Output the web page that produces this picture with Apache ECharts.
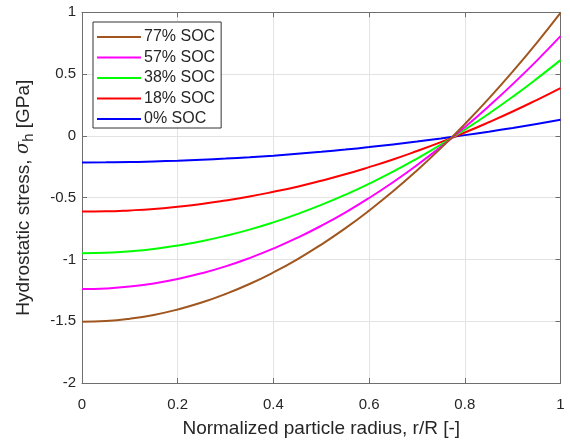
<!DOCTYPE html>
<html><head><meta charset="utf-8">
<script src="https://cdn.jsdelivr.net/npm/echarts@6/dist/echarts.min.js"></script>
<style>html,body{margin:0;padding:0;background:#fff}#c{width:570px;height:443px}</style>
</head><body><div id="c"></div>
<script>
const radius = [0,0.05,0.1,0.15,0.2,0.25,0.3,0.35,0.4,0.45,0.5,0.55,0.6,0.65,0.7,0.75,0.8,0.85,0.9,0.95,1];
const seriesNames = ['77% SOC','57% SOC','38% SOC','18% SOC','0% SOC'];
const soc77 = [-1.505,-1.499,-1.480,-1.449,-1.405,-1.349,-1.280,-1.199,-1.105,-0.999,-0.880,-0.749,-0.605,-0.449,-0.280,-0.099,0.095,0.301,0.520,0.751,0.995];
const soc57 = [-1.240,-1.235,-1.220,-1.194,-1.158,-1.112,-1.056,-0.989,-0.912,-0.825,-0.728,-0.621,-0.503,-0.375,-0.237,-0.089,0.070,0.239,0.418,0.607,0.807];
const soc38 = [-0.950,-0.946,-0.934,-0.915,-0.887,-0.852,-0.809,-0.759,-0.700,-0.633,-0.559,-0.477,-0.387,-0.290,-0.184,-0.071,0.050,0.179,0.316,0.461,0.613];
const soc18 = [-0.613,-0.611,-0.603,-0.591,-0.573,-0.551,-0.523,-0.491,-0.453,-0.411,-0.363,-0.311,-0.253,-0.191,-0.123,-0.051,0.027,0.110,0.197,0.290,0.387];
const soc0  = [-0.215,-0.214,-0.212,-0.207,-0.201,-0.193,-0.184,-0.173,-0.160,-0.145,-0.129,-0.111,-0.091,-0.069,-0.046,-0.021,0.006,0.034,0.064,0.096,0.130];
const xTicks = [0,0.2,0.4,0.6,0.8,1];
const yTicks = [-2,-1.5,-1,-0.5,0,0.5,1];

const allValues = [soc77,soc57,soc38,soc18,soc0];
const colors = ['#a0561e','#ff00ff','#00ff00','#ff0000','#0000ff'];
const axisColor = '#6e6e6e';
const textColor = '#262626';
const font = 'Liberation Sans, Arial, sans-serif';

const chart = echarts.init(document.getElementById('c'));
const baseX = {type:'value',min:0,max:1,interval:0.2,
  axisLine:{show:true,onZero:false,lineStyle:{color:axisColor,width:1}},
  axisTick:{show:true,inside:true,length:5,lineStyle:{color:axisColor}},
  splitLine:{show:false}};
const baseY = {type:'value',min:-2,max:1,interval:0.5,
  axisLine:{show:true,onZero:false,lineStyle:{color:axisColor,width:1}},
  axisTick:{show:true,inside:true,length:5,lineStyle:{color:axisColor}},
  splitLine:{show:false}};
const fmt = v => String(Math.round(v*10)/10);
chart.setOption({
  animation:false,
  backgroundColor:'#fff',
  grid:{left:82,right:9.5,top:12.3,bottom:59,containLabel:false},
  legend:{
    orient:'vertical',left:93,top:22,
    data:seriesNames,
    icon:'rect',itemWidth:44,itemHeight:2,itemGap:4.5,
    padding:[7,6,1,4],
    borderColor:'#333',borderWidth:1,backgroundColor:'#fff',
    textStyle:{fontFamily:font,fontSize:16,color:textColor,padding:[0,0,0,-2]}
  },
  xAxis:[
    Object.assign({},baseX,{position:'bottom',
      name:'Normalized particle radius, r/R [-]',nameLocation:'middle',nameGap:36,
      nameTextStyle:{fontFamily:font,fontSize:19,color:textColor},
      axisLabel:{show:true,margin:14,fontFamily:font,fontSize:15,color:textColor,formatter:fmt},
      splitLine:{show:true,lineStyle:{color:'#e3e3e3',width:1}}}),
    Object.assign({},baseX,{position:'top',axisLabel:{show:false}})
  ],
  yAxis:[
    Object.assign({},baseY,{position:'left',
      name:'Hydrostatic stress, {i|σ}{sub|h} [GPa]',nameLocation:'middle',nameGap:46,
      nameTextStyle:{fontFamily:font,fontSize:19,color:textColor,
        rich:{i:{fontFamily:'DejaVu Serif, serif',fontStyle:'italic',fontSize:18,color:textColor},
              sub:{fontFamily:font,fontSize:15,color:textColor,verticalAlign:'bottom',padding:[10,0,0,0]}}},
      axisLabel:{show:true,margin:6,fontFamily:font,fontSize:15,color:textColor,formatter:fmt},
      splitLine:{show:true,lineStyle:{color:'#e3e3e3',width:1}}}),
    Object.assign({},baseY,{position:'right',axisLabel:{show:false}})
  ],
  series: seriesNames.map((n,i)=>({
    name:n,type:'line',smooth:true,symbol:'none',
    xAxisIndex:0,yAxisIndex:0,
    lineStyle:{color:colors[i],width:2},itemStyle:{color:colors[i]},
    data: radius.map((r,j)=>[r,allValues[i][j]]),
    z:10-i
  }))
});
</script></body></html>
